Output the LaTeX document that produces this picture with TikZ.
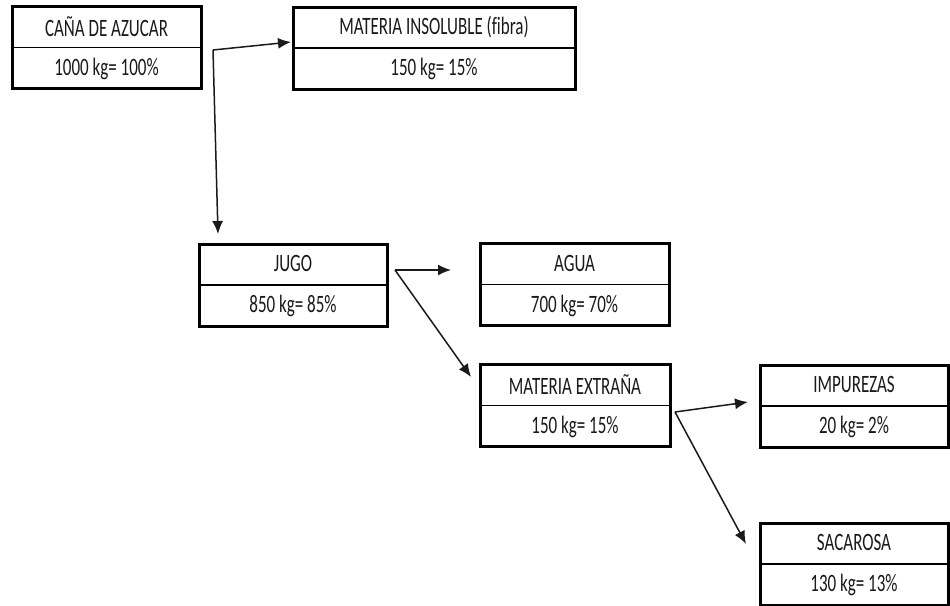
\documentclass[tikz,border=0pt]{standalone}
\usepackage{fontspec}
\setmainfont[FakeStretch=0.68,Ligatures=NoCommon]{Carlito}
\usetikzlibrary{arrows.meta,calc}
\definecolor{ink}{HTML}{1A1A1A}
\tikzset{
  boxn/.style={draw=black, line width=3pt, minimum width=189pt, minimum height=82pt, inner sep=0pt, fill=white},
  divider/.style={draw=black, line width=1.4pt},
  lbl/.style={inner sep=0pt, text=ink, font=\fontsize{25}{29}\selectfont},
  flow/.style={draw=ink, line width=1.5pt, -{Latex[length=13pt,width=11pt]}}
}
\newcommand\tbox[6]{% name, cx, cy, width, top, bottom
  \node[boxn, minimum width=#4] (#1) at (#2,#3) {};
  \draw[divider] (#1.west) -- (#1.east);
  \node[lbl] (#1-t) at ($(#1.center)!0.5!(#1.north)$) {#5};
  \node[lbl] (#1-b) at ($(#1.center)!0.5!(#1.south)$) {#6};
}
\begin{document}
\begin{tikzpicture}[x=1pt,y=-1pt]
\useasboundingbox (0,0) rectangle (950,605);
\tbox{A}{106.5}{47.5}{189pt}{CAÑA DE AZUCAR}{1000 kg= 100\%}
\tbox{B}{434}{48}{282pt}{MATERIA INSOLUBLE (fibra)}{150 kg= 15\%}
\tbox{C}{293}{285}{188pt}{JUGO}{850 kg= 85\%}
\tbox{D}{574.5}{284.5}{189pt}{AGUA}{700 kg= 70\%}
\tbox{E}{575}{405.5}{190pt}{MATERIA EXTRAÑA}{150 kg= 15\%}
\tbox{F}{854}{406}{188pt}{IMPUREZAS}{20 kg= 2\%}
\tbox{G}{854}{564}{188pt}{SACAROSA}{130 kg= 13\%}
% connector points
\coordinate (k1) at (213,50);
\coordinate (t1) at (291,42);
\coordinate (t2) at (218,234);
\coordinate (k2) at (395,270);
\coordinate (t3) at (451,270);
\coordinate (t4) at (471,377);
\coordinate (k3) at (675,412);
\coordinate (t5) at (748,402);
\coordinate (t6) at (746,544);
\draw[flow] (k1) -- (t1);
\draw[flow] (k1) -- (t2);
\draw[flow] (k2) -- (t3);
\draw[flow] (k2) -- (t4);
\draw[flow] (k3) -- (t5);
\draw[flow] (k3) -- (t6);
\end{tikzpicture}
\end{document}
